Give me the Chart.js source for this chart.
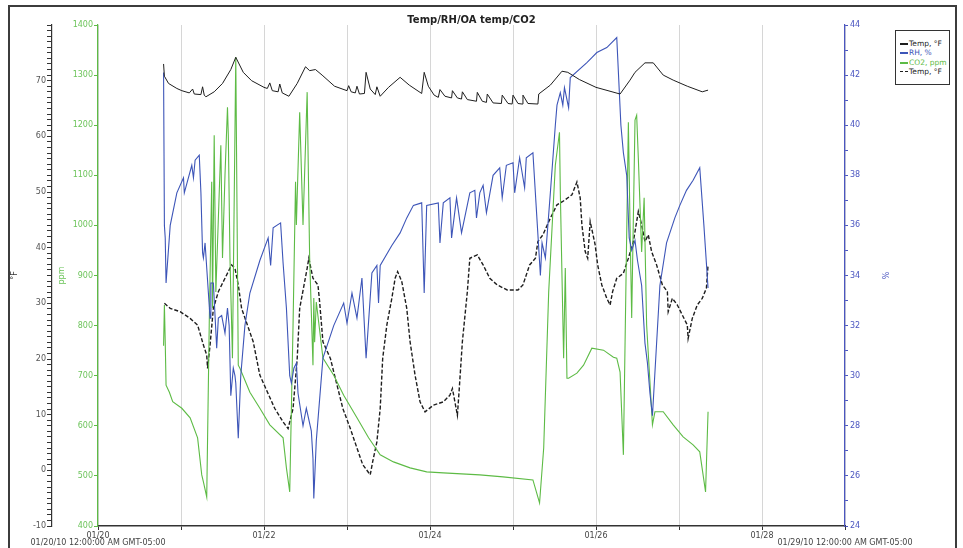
<!DOCTYPE html>
<html>
<head>
<meta charset="utf-8">
<script src="https://cdn.jsdelivr.net/npm/chart.js@4.4.1/dist/chart.umd.min.js"></script>
<style>
  html, body { margin: 0; padding: 0; background: #fff; overflow: hidden; }
  #wrap { position: relative; width: 963px; height: 548px; }
  #frame { position: absolute; left: 8px; top: 5px; width: 945px; height: 560px; border: 2px solid #3c3c3c; pointer-events: none; }
  #legend { position: absolute; left: 895px; top: 30px; width: 55px; height: 55px; border: 1px solid #333; background: #fff;
            font: 7.5px "DejaVu Sans", sans-serif; box-sizing: border-box; padding: 8px 0 0 4px; }
  #legend div { height: 9.3px; line-height: 9.3px; white-space: nowrap; }
  #legend span.swatch { display: inline-block; width: 8px; height: 0; vertical-align: middle; margin-right: 1px; }
</style>
</head>
<body>
<div id="wrap">
  <canvas id="chart" width="963" height="548"></canvas>
  <div id="frame"></div>
  <div id="legend"></div>
</div>
<script>
// x = day of January 2010, y = value
const indoorTemp = [
  [20.79, 73.0], [20.80, 70.8], [20.85, 69.5], [20.95, 68.6], [21.01, 68.2], [21.10, 67.8], [21.14, 68.5],
  [21.16, 67.6], [21.24, 67.5], [21.26, 68.9], [21.28, 67.4], [21.30, 67.1], [21.40, 68.0], [21.50, 69.5],
  [21.60, 72.0], [21.66, 74.2], [21.75, 71.5], [21.85, 70.0], [22.00, 68.8], [22.04, 68.6], [22.07, 69.6],
  [22.10, 68.2], [22.17, 68.0], [22.19, 69.4], [22.22, 67.8], [22.30, 67.2], [22.40, 69.5], [22.50, 72.5],
  [22.55, 71.8], [22.62, 72.0], [22.70, 71.0], [22.85, 69.0], [23.00, 68.2], [23.02, 69.1], [23.05, 68.0],
  [23.10, 67.8], [23.12, 69.0], [23.15, 67.6], [23.21, 67.7], [23.23, 71.5], [23.28, 68.5], [23.34, 67.5],
  [23.36, 68.9], [23.40, 67.2], [23.50, 68.8], [23.64, 70.6], [23.75, 69.2], [23.90, 67.7], [23.93, 71.5],
  [23.98, 69.0], [24.05, 67.4], [24.10, 67.0], [24.12, 68.4], [24.18, 67.2], [24.26, 66.9], [24.27, 68.2],
  [24.33, 66.9], [24.38, 66.7], [24.39, 68.0], [24.45, 66.6], [24.56, 66.3], [24.57, 67.9], [24.63, 66.3],
  [24.68, 66.1], [24.69, 67.6], [24.76, 66.0], [24.86, 65.9], [24.87, 67.4], [24.94, 65.9], [24.99, 65.8],
  [25.00, 67.4], [25.06, 65.9], [25.11, 65.8], [25.12, 67.4], [25.18, 65.9], [25.30, 65.8], [25.31, 67.6],
  [25.45, 69.2], [25.59, 71.7], [25.66, 71.5], [25.80, 70.2], [26.00, 68.8], [26.29, 67.6], [26.41, 70.1],
  [26.47, 71.5], [26.59, 73.2], [26.69, 73.2], [26.81, 71.0], [26.93, 70.1], [27.10, 69.0], [27.28, 68.0],
  [27.35, 68.3]
];

const relHumidity = [
  [20.79, 42.1], [20.80, 36.0], [20.81, 35.5], [20.82, 33.7], [20.87, 36.0], [20.95, 37.3], [21.03, 37.9],
  [21.04, 37.3], [21.13, 38.4], [21.15, 37.9], [21.17, 38.6], [21.22, 38.8], [21.24, 37.3], [21.26, 34.9],
  [21.27, 34.7], [21.29, 35.3], [21.31, 34.3], [21.33, 33.3], [21.35, 32.3], [21.36, 33.7], [21.39, 33.7],
  [21.43, 31.1], [21.45, 32.3], [21.49, 32.4], [21.53, 31.7], [21.56, 32.7], [21.58, 32.0], [21.60, 29.2],
  [21.63, 30.3], [21.65, 30.0], [21.66, 29.7], [21.69, 27.5], [21.72, 30.0], [21.77, 32.0], [21.83, 33.3],
  [21.95, 34.6], [22.05, 35.5], [22.08, 34.4], [22.11, 35.9], [22.20, 36.1], [22.23, 34.5], [22.27, 32.7],
  [22.31, 30.0], [22.33, 29.7], [22.36, 30.3], [22.39, 30.5], [22.41, 29.3], [22.47, 28.0], [22.51, 28.7],
  [22.57, 27.8], [22.59, 26.7], [22.60, 25.1], [22.63, 27.4], [22.71, 30.7], [22.84, 32.0], [22.96, 32.9],
  [23.00, 32.1], [23.06, 33.3], [23.12, 32.3], [23.18, 33.9], [23.23, 30.7], [23.30, 34.1], [23.36, 34.4],
  [23.38, 32.9], [23.40, 34.4], [23.54, 35.2], [23.64, 35.7], [23.72, 36.3], [23.80, 36.8], [23.90, 36.9],
  [23.93, 33.3], [23.96, 36.8], [24.10, 36.9], [24.12, 35.3], [24.16, 36.9], [24.24, 37.1], [24.26, 35.5],
  [24.32, 37.1], [24.38, 35.7], [24.48, 37.3], [24.54, 37.4], [24.56, 36.3], [24.60, 37.3], [24.64, 37.6],
  [24.68, 36.5], [24.76, 38.0], [24.84, 38.3], [24.87, 37.1], [24.92, 38.4], [25.00, 38.5], [25.02, 37.3],
  [25.08, 38.7], [25.14, 37.5], [25.16, 38.7], [25.24, 38.9], [25.33, 34.0], [25.35, 35.3], [25.39, 34.7],
  [25.45, 37.3], [25.51, 40.0], [25.53, 40.8], [25.57, 41.3], [25.60, 40.8], [25.62, 41.5], [25.67, 40.7],
  [25.69, 41.9], [25.89, 42.5], [25.95, 42.7], [26.01, 42.9], [26.13, 43.1], [26.25, 43.5], [26.30, 40.0],
  [26.33, 38.9], [26.37, 38.0], [26.40, 35.5], [26.43, 35.0], [26.47, 35.4], [26.50, 34.6], [26.55, 33.6],
  [26.59, 31.3], [26.62, 30.5], [26.65, 29.3], [26.68, 28.4], [26.77, 33.6], [26.85, 35.3], [26.95, 36.3],
  [27.01, 36.8], [27.09, 37.4], [27.17, 37.8], [27.25, 38.3], [27.30, 36.0], [27.35, 33.5]
];

const co2 = [
  [20.79, 760], [20.80, 841], [20.81, 767], [20.82, 681], [20.86, 667], [20.90, 648], [21.01, 635],
  [21.11, 616], [21.20, 576], [21.25, 502], [21.27, 488], [21.31, 458], [21.34, 801], [21.37, 1087],
  [21.38, 835], [21.40, 1180], [21.42, 867], [21.48, 1160], [21.50, 935], [21.53, 1100], [21.56, 1236],
  [21.57, 1180], [21.59, 935], [21.62, 735], [21.66, 1336], [21.69, 721], [21.71, 715], [21.83, 667],
  [21.95, 635], [22.07, 602], [22.23, 576], [22.27, 516], [22.31, 468], [22.35, 801], [22.38, 1087],
  [22.39, 1001], [22.43, 1226], [22.47, 1001], [22.52, 1266], [22.55, 935], [22.59, 721], [22.60, 855],
  [22.61, 767], [22.63, 847], [22.71, 735], [22.84, 701], [22.96, 661], [23.12, 616], [23.26, 576],
  [23.40, 542], [23.56, 528], [23.76, 516], [23.96, 508], [24.16, 506], [24.60, 502], [24.88, 498],
  [25.24, 492], [25.32, 446], [25.37, 556], [25.43, 867], [25.51, 1120], [25.56, 1186], [25.57, 1067],
  [25.61, 735], [25.63, 915], [25.65, 695], [25.67, 695], [25.77, 705], [25.85, 721], [25.95, 755],
  [26.09, 751], [26.21, 737], [26.25, 735], [26.29, 707], [26.33, 542], [26.39, 1206], [26.41, 1000],
  [26.43, 815], [26.47, 1210], [26.49, 1220], [26.51, 1134], [26.55, 947], [26.58, 1055], [26.61, 801],
  [26.68, 602], [26.71, 628], [26.81, 628], [26.93, 602], [27.05, 578], [27.17, 562], [27.25, 548],
  [27.32, 468], [27.35, 628]
];

const outdoorTemp = [
  [20.80, 30.0], [20.87, 29.1], [20.99, 28.5], [21.11, 27.3], [21.20, 26.1], [21.27, 22.5], [21.31, 20.7],
  [21.32, 18.3], [21.35, 22.5], [21.39, 29.1], [21.45, 32.1], [21.51, 33.9], [21.57, 35.7], [21.61, 36.9],
  [21.65, 36.3], [21.69, 33.3], [21.73, 29.1], [21.80, 26.1], [21.87, 23.1], [21.95, 17.1], [22.04, 14.1],
  [22.13, 11.1], [22.23, 8.7], [22.29, 7.5], [22.35, 11.1], [22.40, 20.1], [22.43, 29.1], [22.52, 36.3],
  [22.54, 38.1], [22.59, 34.5], [22.65, 33.3], [22.67, 30.3], [22.71, 23.1], [22.80, 20.1], [22.88, 15.3],
  [22.95, 11.1], [23.04, 7.5], [23.12, 4.0], [23.19, 1.0], [23.28, -0.8], [23.31, 1.6], [23.36, 5.1],
  [23.40, 11.1], [23.43, 20.1], [23.48, 26.1], [23.54, 30.9], [23.58, 34.5], [23.61, 35.7], [23.66, 33.9],
  [23.72, 29.1], [23.76, 23.1], [23.82, 17.1], [23.88, 12.3], [23.94, 10.5], [24.04, 11.7], [24.16, 12.3],
  [24.24, 13.5], [24.27, 14.7], [24.33, 9.9], [24.35, 14.1], [24.39, 23.1], [24.45, 32.1], [24.48, 38.1],
  [24.57, 38.7], [24.64, 36.9], [24.72, 34.5], [24.81, 33.3], [24.93, 32.4], [25.06, 32.4], [25.12, 33.3],
  [25.20, 36.9], [25.27, 38.1], [25.30, 41.1], [25.36, 42.3], [25.45, 45.3], [25.53, 47.7], [25.60, 48.3],
  [25.71, 49.5], [25.77, 51.8], [25.81, 48.9], [25.83, 44.1], [25.87, 39.3], [25.90, 38.1], [25.93, 44.7],
  [25.99, 40.5], [26.02, 36.9], [26.07, 33.3], [26.13, 30.9], [26.17, 29.7], [26.20, 32.1], [26.25, 34.5],
  [26.33, 35.4], [26.39, 38.1], [26.45, 41.1], [26.47, 42.9], [26.51, 46.5], [26.55, 44.1], [26.59, 41.1],
  [26.63, 42.3], [26.67, 39.3], [26.73, 36.9], [26.80, 33.3], [26.86, 32.1], [26.87, 28.5], [26.92, 30.9],
  [26.98, 29.7], [27.04, 27.9], [27.10, 26.1], [27.11, 23.7], [27.16, 27.3], [27.22, 29.7], [27.28, 30.9],
  [27.33, 32.7], [27.35, 36.9]
];

const seriesLabels = ['Temp, °F', 'RH, %', 'CO2, ppm', 'Temp, °F'];
const dayStart = 20;
const dayEnd = 29;
const startStamp = '01/20/10 12:00:00 AM GMT-05:00';
const endStamp = '01/29/10 12:00:00 AM GMT-05:00';

const BLACK = '#1e1e1e';
const BLUE = '#3d55b8';
const GREEN = '#5dbb45';
const FONT = '"DejaVu Sans", sans-serif';

const toPoints = arr => arr.map(([x, y]) => ({ x, y }));

// dates complètes sous le premier et le dernier tick
const stampPlugin = {
  id: 'stamps',
  afterDraw(chart) {
    const x = chart.scales.x;
    const c = chart.ctx;
    c.save();
    c.font = '8px ' + FONT;
    c.fillStyle = '#444';
    c.textAlign = 'center';
    c.textBaseline = 'middle';
    c.fillText(startStamp, x.getPixelForValue(dayStart), 543);
    c.fillText(endStamp, x.getPixelForValue(dayEnd), 543);
    c.restore();
  }
};

const chart = new Chart(document.getElementById('chart'), {
  type: 'line',
  data: {
    datasets: [
      { label: seriesLabels[0], data: toPoints(indoorTemp), yAxisID: 'yTemp', borderColor: BLACK, borderWidth: 1 },
      { label: seriesLabels[1], data: toPoints(relHumidity), yAxisID: 'yRH', borderColor: BLUE, borderWidth: 1.1 },
      { label: seriesLabels[2], data: toPoints(co2), yAxisID: 'yCO2', borderColor: GREEN, borderWidth: 1.1 },
      { label: seriesLabels[3], data: toPoints(outdoorTemp), yAxisID: 'yTemp', borderColor: BLACK, borderWidth: 1.4, borderDash: [4, 2] }
    ]
  },
  options: {
    responsive: false,
    animation: false,
    elements: { point: { radius: 0 }, line: { tension: 0 } },
    layout: { padding: { left: 0, right: 68, top: 0, bottom: 0 } },
    plugins: {
      legend: { display: false },
      tooltip: { enabled: false },
      title: {
        display: true,
        text: 'Temp/RH/OA temp/CO2',
        fullSize: false,
        color: '#222',
        font: { family: FONT, size: 10, weight: 'bold' },
        padding: { top: 14, bottom: -1 }
      }
    },
    scales: {
      x: {
        type: 'linear',
        position: 'bottom',
        min: dayStart,
        max: dayEnd,
        ticks: {
          stepSize: 1,
          autoSkip: false,
          maxRotation: 0,
          padding: 1,
          color: '#444',
          font: { family: FONT, size: 8 },
          callback: v => (v % 2 === 0 && v < dayEnd) ? '01/' + String(v).padStart(2, '0') : ''
        },
        grid: { color: '#d6d6d6', tickColor: '#333', tickLength: 4, lineWidth: 1 },
        border: { color: '#333', width: 1.5 },
        afterFit: s => { s.height = 22; }
      },
      yTemp: {
        position: 'left',
        weight: 2,
        min: -10,
        max: 80,
        ticks: {
          stepSize: 1,
          autoSkip: false,
          padding: 1,
          color: '#555',
          font: { family: FONT, size: 8 },
          callback: v => (v % 10 === 0 && v < 80) ? String(v) : ''
        },
        grid: { drawOnChartArea: false, tickColor: '#333', tickLength: 5 },
        border: { color: '#333', width: 1.2 },
        title: { display: true, text: '°F', color: '#333', font: { family: FONT, size: 8 }, padding: { top: 10, bottom: 0 } },
        afterFit: s => { s.width = 52; }
      },
      yCO2: {
        position: 'left',
        weight: 1,
        min: 400,
        max: 1400,
        ticks: {
          stepSize: 100,
          autoSkip: false,
          padding: 1,
          color: '#6cc45a',
          font: { family: FONT, size: 8 },
          callback: v => String(v)
        },
        grid: { drawOnChartArea: false, tickColor: GREEN, tickLength: 4 },
        border: { color: GREEN, width: 1.2 },
        title: { display: true, text: 'ppm', color: '#6cc45a', font: { family: FONT, size: 8 }, padding: { top: 5, bottom: 0 } },
        afterFit: s => { s.width = 46; }
      },
      yRH: {
        position: 'right',
        min: 24,
        max: 44,
        ticks: {
          stepSize: 1,
          autoSkip: false,
          padding: 2,
          color: '#4a55c0',
          font: { family: FONT, size: 8 },
          callback: v => (v % 2 === 0) ? String(v) : ''
        },
        grid: { drawOnChartArea: false, tickColor: '#4a55c0', tickLength: 3 },
        border: { color: '#4a55c0', width: 1.2 },
        title: { display: true, text: '%', color: '#4a55c0', font: { family: FONT, size: 8 }, padding: { top: 6, bottom: 0 } },
        afterFit: s => { s.width = 50; }
      }
    }
  },
  plugins: [stampPlugin]
});

// légende dans le cadre à droite, construite depuis les datasets
const legendEl = document.getElementById('legend');
chart.data.datasets.forEach(ds => {
  const row = document.createElement('div');
  row.style.color = ds.borderColor;
  const sw = document.createElement('span');
  sw.className = 'swatch';
  sw.style.borderTop = (ds.borderDash ? '1.5px dashed ' : '2px solid ') + ds.borderColor;
  row.appendChild(sw);
  row.appendChild(document.createTextNode(ds.label));
  legendEl.appendChild(row);
});
</script>
</body>
</html>
